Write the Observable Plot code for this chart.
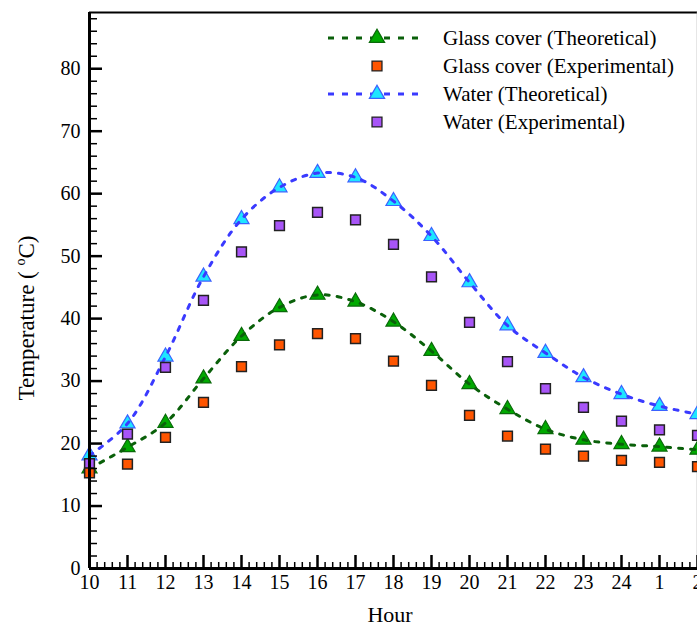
<!DOCTYPE html>
<html>
<head>
<meta charset="utf-8">
<script src="https://cdn.jsdelivr.net/npm/d3@7"></script>
<script src="https://cdn.jsdelivr.net/npm/@observablehq/plot@0.6"></script>
<style>
  html, body { margin: 0; padding: 0; background: #fff; }
  #chart { width: 697px; height: 627px; overflow: hidden; }
</style>
</head>
<body>
<div id="chart"></div>
<script>
// Hour of day, from 10 in the morning through 2 at night
const hourLabels = ["10","11","12","13","14","15","16","17","18","19","20","21","22","23","24","1","2"];

// Temperatures (°C)
const glassTheoretical = [16.0,19.4,23.3,30.4,37.2,41.8,43.8,42.7,39.5,34.8,29.5,25.5,22.3,20.6,19.9,19.5,19.0];
const glassExperimental = [15.3,16.7,21.0,26.6,32.3,35.8,37.6,36.8,33.2,29.3,24.5,21.2,19.1,18.0,17.3,17.0,16.3];
const waterTheoretical = [18.1,23.2,33.9,46.7,55.9,61.0,63.3,62.6,58.8,53.2,45.8,38.9,34.5,30.6,27.9,26.0,24.7];
const waterExperimental = [16.8,21.5,32.2,42.9,50.7,54.9,57.0,55.8,51.9,46.7,39.4,33.1,28.8,25.8,23.6,22.2,21.3];

const seriesNames = [
  "Glass cover (Theoretical)",
  "Glass cover (Experimental)",
  "Water (Theoretical)",
  "Water (Experimental)"
];

const toRows = (values) => values.map((v, i) => ({i, v}));
const gT = toRows(glassTheoretical);
const gE = toRows(glassExperimental);
const wT = toRows(waterTheoretical);
const wE = toRows(waterExperimental);

const style = {
  gLine: "#0a600a", gFill: "#00aa00", gStroke: "#0a6a0a",
  wLine: "#3a3aff", wFill: "#1ee6ff", wStroke: "#3a62ff",
  oFill: "#ff5500", pFill: "#a855f7"
};

const xMajor = d3.range(0, 17);
const xMinor = d3.range(0, 80).map(k => k / 5).filter(v => v % 1 !== 0);
const yMajor = d3.range(0, 81, 10);
const yMinor = d3.range(2, 89, 2).filter(v => v % 10 !== 0);

const font = "'Liberation Serif', 'Times New Roman', serif";

const svg = Plot.plot({
  width: 697,
  height: 627,
  marginLeft: 89,
  marginRight: 0,
  marginTop: 12,
  marginBottom: 59,
  x: {domain: [0, 16]},
  y: {domain: [0, 89]},
  style: {fontFamily: font, fontSize: "20px", color: "#000", background: "#fff"},
  marks: [
    // frame
    Plot.ruleY([89], {stroke: "#000", strokeWidth: 2}),
    Plot.ruleX([16], {stroke: "#9a9a9a", strokeWidth: 1.5}),

    // theoretical curves and markers
    Plot.dot(gT, {x: "i", y: "v", symbol: "triangle", r: 5.6, fill: style.gFill, stroke: style.gStroke, strokeWidth: 1.2}),
    Plot.dot(wT, {x: "i", y: "v", symbol: "triangle", r: 5.6, fill: style.wFill, stroke: style.wStroke, strokeWidth: 1.2}),
    Plot.line(gT, {x: "i", y: "v", curve: "catmull-rom", stroke: style.gLine, strokeWidth: 3, strokeDasharray: "4,8"}),
    Plot.line(wT, {x: "i", y: "v", curve: "catmull-rom", stroke: style.wLine, strokeWidth: 3, strokeDasharray: "4,8"}),

    // experimental markers
    Plot.dot(wE, {x: "i", y: "v", symbol: "square", r: 5.5, fill: style.pFill, stroke: "#222", strokeWidth: 1.5}),
    Plot.dot(gE, {x: "i", y: "v", symbol: "square", r: 5.5, fill: style.oFill, stroke: "#222", strokeWidth: 1.5}),

    // axes with inward ticks
    Plot.axisX({ticks: xMinor, tickSize: -6, strokeWidth: 1.5, tickFormat: () => "", label: null}),
    Plot.axisX({ticks: xMajor, tickSize: -13, strokeWidth: 2.5, tickFormat: () => "", label: null}),
    Plot.axisX({ticks: xMajor, tickSize: 0, tickPadding: 6, tickFormat: i => hourLabels[i], label: null, fontSize: 20}),
    Plot.axisY({ticks: yMinor, tickSize: -8, strokeWidth: 1.5, tickFormat: () => "", label: null}),
    Plot.axisY({ticks: yMajor, tickSize: 0, tickPadding: 9, label: null, fontSize: 20}),
    Plot.axisY({ticks: yMajor, tickSize: -13, strokeWidth: 2.5, tickFormat: () => "", label: null}),
    Plot.ruleX([0], {stroke: "#000", strokeWidth: 3}),
    Plot.ruleY([0], {stroke: "#000", strokeWidth: 3})
  ]
});

const root = d3.select(svg);

// axis titles
root.append("text")
  .attr("x", 390).attr("y", 622)
  .attr("text-anchor", "middle")
  .attr("font-family", font).attr("font-size", 22)
  .attr("fill", "#000")
  .text("Hour");

const yTitle = root.append("text")
  .attr("transform", "translate(34,318) rotate(-90)")
  .attr("text-anchor", "middle")
  .attr("font-family", font).attr("font-size", 23)
  .attr("fill", "#000");
yTitle.append("tspan").text("Temperature ( ");
yTitle.append("tspan").attr("font-size", 14).attr("dy", -9).text("o");
yTitle.append("tspan").attr("dy", 9).text("C)");

// legend
const legend = root.append("g")
  .attr("font-family", font).attr("font-size", 21)
  .attr("text-anchor", "start");
const rows = [
  {name: seriesNames[0], line: style.gLine, sym: d3.symbolTriangle, fill: style.gFill, stroke: style.gStroke},
  {name: seriesNames[1], line: null, sym: d3.symbolSquare, fill: style.oFill, stroke: "#222"},
  {name: seriesNames[2], line: style.wLine, sym: d3.symbolTriangle, fill: style.wFill, stroke: style.wStroke},
  {name: seriesNames[3], line: null, sym: d3.symbolSquare, fill: style.pFill, stroke: "#222"}
];
const rowY = [38, 66, 94, 122];
rows.forEach((r, k) => {
  const g = legend.append("g").attr("transform", `translate(0,${rowY[k]})`);
  if (r.line) {
    g.append("line").attr("x1", 328).attr("x2", 420).attr("y1", 0).attr("y2", 0)
      .attr("stroke", r.line).attr("stroke-width", 3).attr("stroke-dasharray", "6,8");
  }
  g.append("path")
    .attr("transform", "translate(377,0)")
    .attr("d", d3.symbol(r.sym, Math.PI * 5.6 * 5.6)())
    .attr("fill", r.fill).attr("stroke", r.stroke).attr("stroke-width", 1.3);
  g.append("text").attr("x", 443).attr("dy", "0.32em").attr("fill", "#000").text(r.name);
});

document.getElementById("chart").appendChild(svg);
</script>
</body>
</html>
